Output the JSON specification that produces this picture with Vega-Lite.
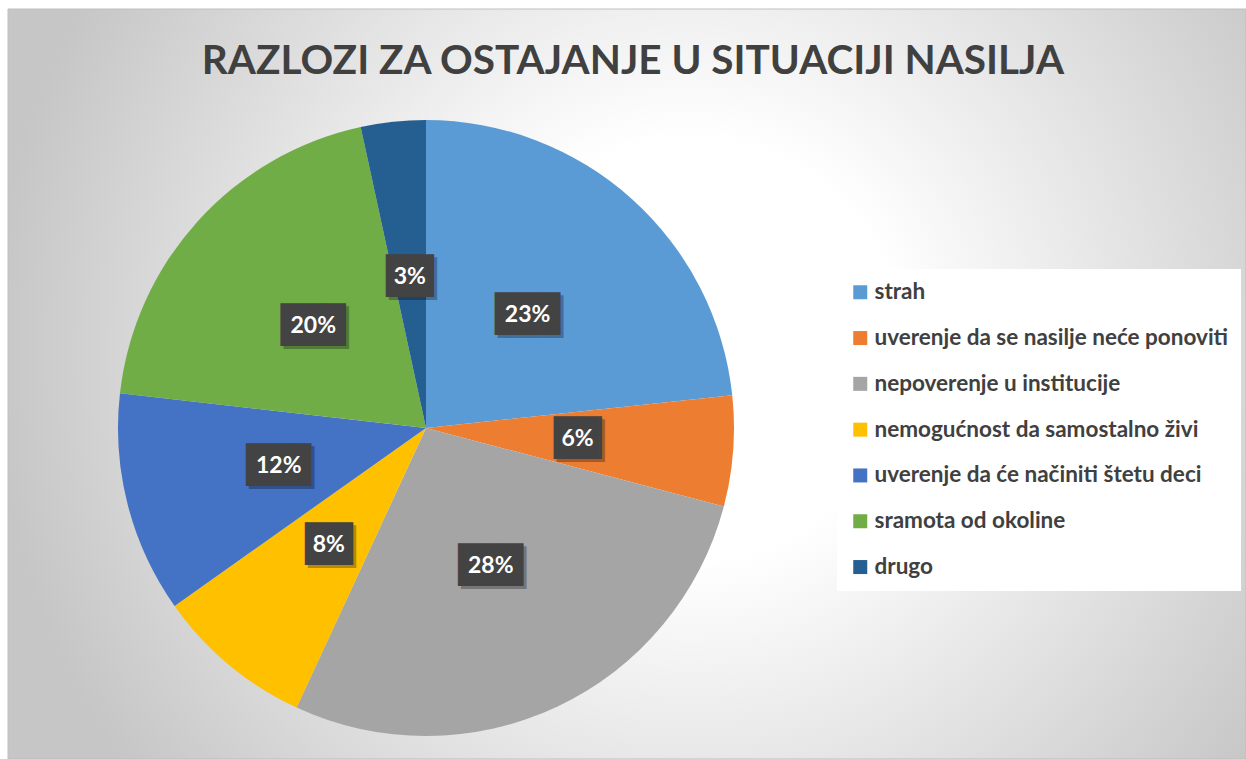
{
  "$schema": "https://vega.github.io/schema/vega-lite/v6.json",
  "width": 632,
  "height": 636,
  "autosize": {"type": "none"},
  "padding": {"left": 110, "top": 110, "right": 504, "bottom": 13},
  "background": "#ffffff",
  "config": {"view": {"stroke": null}, "font": "Lato"},
  "title": {
    "text": "RAZLOZI ZA OSTAJANJE U SITUACIJI NASILJA",
    "font": "Lato",
    "fontSize": 40.5,
    "fontWeight": "bold",
    "color": "#404040",
    "anchor": "middle",
    "frame": "group",
    "dx": 207,
    "offset": -74,
    "zindex": 1
  },
  "data": {
    "values": [
      {"n": 1, "kategorija": "strah", "share": 0.233},
      {"n": 2, "kategorija": "uverenje da se nasilje neće ponoviti", "share": 0.058},
      {"n": 3, "kategorija": "nepoverenje u institucije", "share": 0.278},
      {"n": 4, "kategorija": "nemogućnost da samostalno živi", "share": 0.083},
      {"n": 5, "kategorija": "uverenje da će načiniti štetu deci", "share": 0.116},
      {"n": 6, "kategorija": "sramota od okoline", "share": 0.198},
      {"n": 7, "kategorija": "drugo", "share": 0.034}
    ]
  },
  "layer": [
    {
      "data": {"values": [{}]},
      "mark": {
        "type": "rect",
        "fill": {
          "gradient": "radial",
          "x1": 0.551, "y1": 0.4725, "r1": 0,
          "x2": 0.551, "y2": 0.4725, "r2": 0.565,
          "stops": [
            {"offset": 0, "color": "#ffffff"},
            {"offset": 0.3, "color": "#ffffff"},
            {"offset": 1, "color": "#c6c6c6"}
          ]
        },
        "stroke": "#bfbfbf",
        "strokeWidth": 1
      },
      "encoding": {
        "x": {"value": -102},
        "x2": {"value": 1136},
        "y": {"value": -101},
        "y2": {"value": 649}
      }
    },
    {
      "mark": {"type": "arc", "outerRadius": 308},
      "encoding": {
        "theta": {"field": "share", "type": "quantitative", "stack": true},
        "order": {"field": "n", "type": "quantitative"},
        "color": {
          "field": "kategorija",
          "type": "nominal",
          "sort": null,
          "scale": {
            "domain": ["strah", "uverenje da se nasilje neće ponoviti", "nepoverenje u institucije", "nemogućnost da samostalno živi", "uverenje da će načiniti štetu deci", "sramota od okoline", "drugo"],
            "range": ["#5B9BD5", "#ED7D31", "#A5A5A5", "#FFC000", "#4472C4", "#70AD47", "#255E91"]
          },
          "legend": {
            "title": null,
            "orient": "none",
            "legendX": 727,
            "legendY": 159,
            "symbolType": "square",
            "symbolSize": 196,
            "symbolStrokeWidth": 0,
            "symbolOpacity": 1,
            "labelFont": "Lato",
            "labelFontSize": 22.5,
            "labelFontWeight": "bold",
            "labelColor": "#404040",
            "labelLimit": 600,
            "rowPadding": 22.8,
            "labelOffset": 3,
            "padding": 12,
            "fillColor": "#ffffff"
          }
        }
      }
    },
    {
      "mark": {"type": "text", "radius": 152, "font": "DejaVu Sans Mono", "fontSize": 36, "color": "#000000", "opacity": 0.28, "dx": 3, "dy": 3, "baseline": "middle", "align": "center"},
      "encoding": {
        "theta": {"field": "share", "type": "quantitative", "stack": true},
        "order": {"field": "n", "type": "quantitative"},
        "text": {"condition": {"test": "datum.share >= 0.095", "value": "███"}, "value": "▕██▏"}
      }
    },
    {
      "mark": {"type": "text", "radius": 152, "font": "DejaVu Sans Mono", "fontSize": 36, "color": "#434343", "baseline": "middle", "align": "center"},
      "encoding": {
        "theta": {"field": "share", "type": "quantitative", "stack": true},
        "order": {"field": "n", "type": "quantitative"},
        "text": {"condition": {"test": "datum.share >= 0.095", "value": "███"}, "value": "▕██▏"}
      }
    },
    {
      "mark": {"type": "text", "radius": 152, "font": "Lato", "fontSize": 23, "fontWeight": "bold", "color": "#ffffff", "baseline": "middle", "align": "center"},
      "encoding": {
        "theta": {"field": "share", "type": "quantitative", "stack": true},
        "order": {"field": "n", "type": "quantitative"},
        "text": {"field": "share", "type": "quantitative", "format": ".0%"}
      }
    }
  ]
}
